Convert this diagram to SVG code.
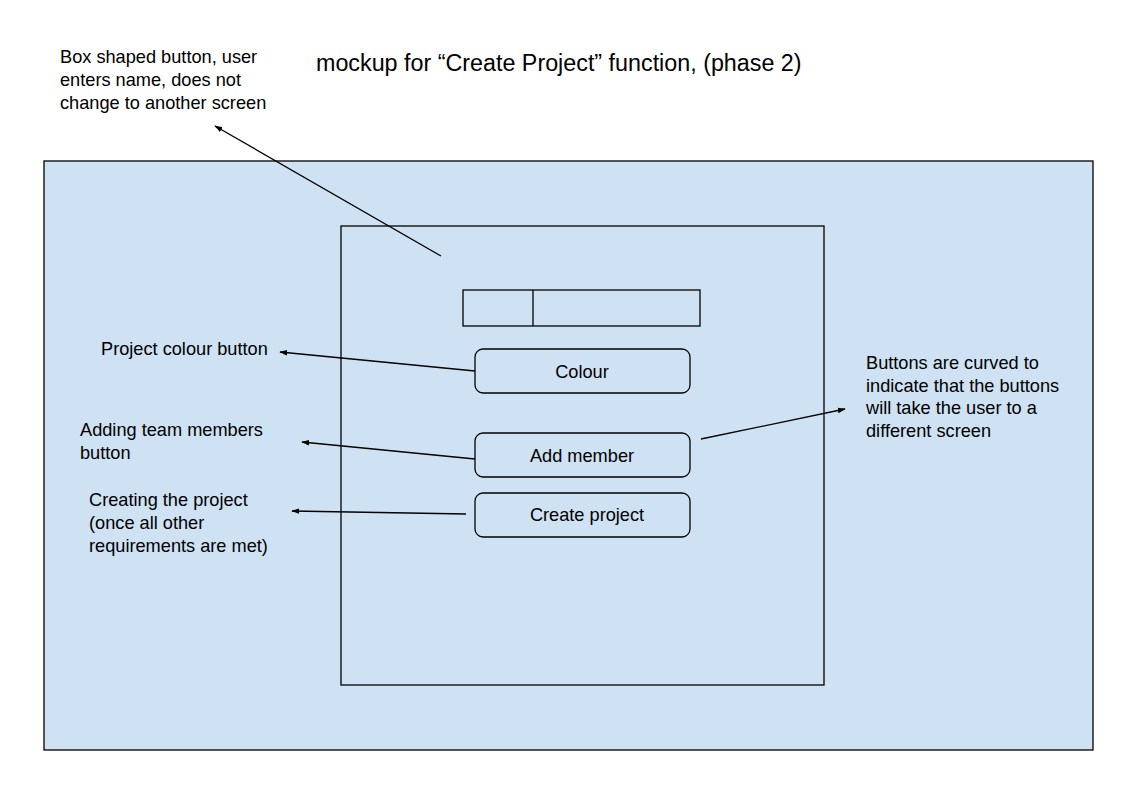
<svg xmlns="http://www.w3.org/2000/svg" width="1130" height="796" viewBox="0 0 1130 796">
<style>
text{font-family:"Liberation Sans",Arial,sans-serif;font-size:18.2px;fill:#000}
.t{font-size:23.3px}
.c{text-anchor:middle}
.box{fill:#cfe2f3;stroke:#000;stroke-width:1.3}
.btn{fill:#cfe2f3;stroke:#000;stroke-width:1.3}
.ln{stroke:#000;stroke-width:1.3;fill:none;marker-end:url(#ah)}
</style>
<defs>
<marker id="ah" viewBox="0 0 10 10" refX="9" refY="5" markerWidth="8" markerHeight="8" markerUnits="userSpaceOnUse" orient="auto">
<path d="M0,1.5 L10,5 L0,8.5 z" fill="#000"/>
</marker>
</defs>
<rect width="1130" height="796" fill="#fff"/>
<g id="frame"><rect class="box" x="44" y="161" width="1049" height="589"/></g>
<g id="screen"><rect class="box" x="341" y="226" width="483" height="459"/></g>
<g id="namefield"><rect class="box" x="463" y="290" width="237" height="36"/><line x1="533" y1="290" x2="533" y2="326" stroke="#000" stroke-width="1.3"/></g>
<g id="colour"><rect class="btn" x="475" y="349" width="215" height="44" rx="8"/><text class="c" x="582" y="378">Colour</text></g>
<g id="addmember"><rect class="btn" x="475" y="433" width="215" height="44" rx="8"/><text class="c" x="582" y="462">Add member</text></g>
<g id="createproject"><rect class="btn" x="475" y="493" width="215" height="44" rx="8"/><text class="c" x="587" y="521">Create project</text></g>
<g id="title"><text class="t" x="316" y="71">mockup for “Create Project” function, (phase 2)</text></g>
<g id="note-box"><text x="60" y="63">Box shaped button, user</text><text x="60" y="86">enters name, does not</text><text x="60" y="109">change to another screen</text></g>
<g id="note-colour"><text x="101" y="355">Project colour button</text></g>
<g id="note-member"><text x="80" y="436">Adding team members</text><text x="80" y="459">button</text></g>
<g id="note-create"><text x="89" y="506">Creating the project</text><text x="89" y="529">(once all other</text><text x="89" y="552">requirements are met)</text></g>
<g id="note-curved"><text x="866" y="369">Buttons are curved to</text><text x="866" y="392">indicate that the buttons</text><text x="866" y="414">will take the user to a</text><text x="866" y="437">different screen</text></g>
<g id="connectors">
<line class="ln" x1="441" y1="256" x2="215" y2="126"/>
<line class="ln" x1="475" y1="371" x2="280" y2="352"/>
<line class="ln" x1="475" y1="459" x2="302" y2="442"/>
<line class="ln" x1="466" y1="514" x2="292" y2="511"/>
<line class="ln" x1="701" y1="439" x2="845" y2="409"/>
</g>
</svg>
